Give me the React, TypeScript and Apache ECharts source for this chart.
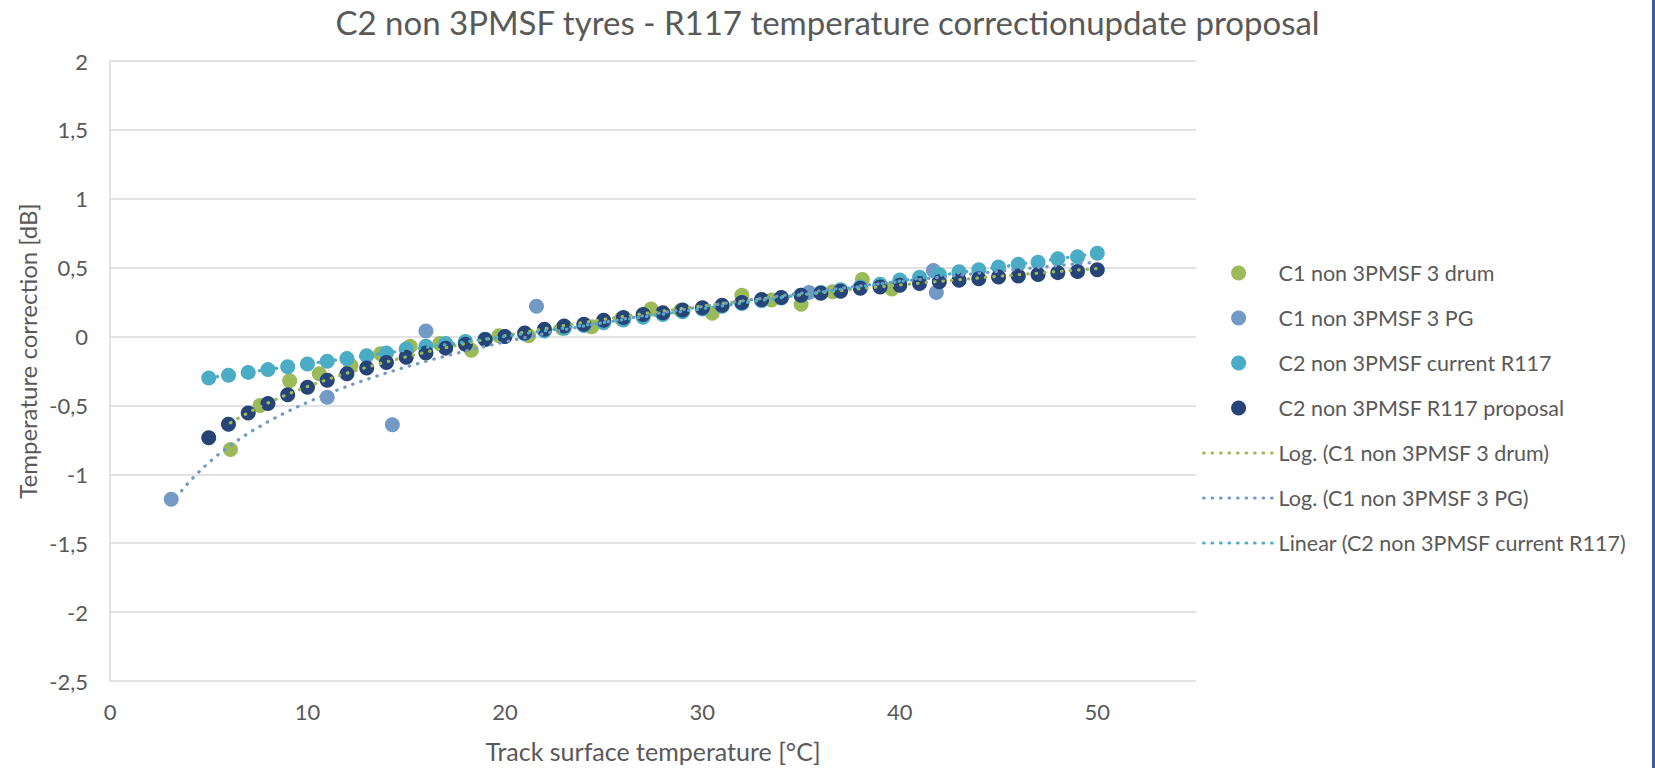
import React, { useEffect, useRef } from "react";
import * as echarts from "echarts";

// ---- data ----
const drumX = [6.1, 7.6, 9.1, 10.6, 12.2, 13.7, 15.2, 16.7, 18.3, 19.7, 21.2, 22.9, 24.4, 25.9, 27.4, 28.9, 30.5, 32.0, 33.5, 35.0, 36.6, 38.1, 39.6];
const drumY = [-0.82, -0.5, -0.32, -0.27, -0.21, -0.125, -0.07, -0.05, -0.1, 0.005, 0.005, 0.06, 0.072, 0.13, 0.2, 0.19, 0.17, 0.3, 0.265, 0.235, 0.325, 0.415, 0.345];

const pgX = [3.1, 11.0, 14.3, 16.0, 21.6, 35.4, 41.7, 41.85];
const pgY = [-1.18, -0.44, -0.64, 0.04, 0.22, 0.32, 0.48, 0.32];

const tempX = [5, 6, 7, 8, 9, 10, 11, 12, 13, 14, 15, 16, 17, 18, 19, 20, 21, 22, 23, 24, 25, 26, 27, 28, 29, 30, 31, 32, 33, 34, 35, 36, 37, 38, 39, 40, 41, 42, 43, 44, 45, 46, 47, 48, 49, 50];
const currentY = [-0.3, -0.28, -0.26, -0.24, -0.22, -0.2, -0.18, -0.16, -0.14, -0.12, -0.09, -0.07, -0.05, -0.035, -0.02, 0.0, 0.02, 0.04, 0.06, 0.08, 0.1, 0.12, 0.14, 0.16, 0.18, 0.2, 0.22, 0.24, 0.26, 0.28, 0.3, 0.32, 0.34, 0.36, 0.38, 0.41, 0.43, 0.45, 0.47, 0.485, 0.505, 0.525, 0.54, 0.565, 0.58, 0.605];
const proposalY = [-0.735, -0.637, -0.555, -0.486, -0.423, -0.368, -0.317, -0.27, -0.228, -0.188, -0.151, -0.12, -0.084, -0.056, -0.022, 0.0, 0.026, 0.053, 0.076, 0.09, 0.118, 0.139, 0.16, 0.173, 0.192, 0.209, 0.228, 0.247, 0.269, 0.283, 0.3, 0.314, 0.329, 0.35, 0.36, 0.372, 0.385, 0.397, 0.408, 0.42, 0.432, 0.44, 0.45, 0.464, 0.473, 0.485];

const seriesNames = [
  "C1 non 3PMSF 3 drum",
  "C1 non 3PMSF 3 PG",
  "C2 non 3PMSF current R117",
  "C2 non 3PMSF R117 proposal",
  "Log. (C1 non 3PMSF 3 drum)",
  "Log. (C1 non 3PMSF 3 PG)",
  "Linear (C2 non 3PMSF current R117)",
];
const trendEnd = 50;

const COLORS = ["#9BBB59", "#7399C6", "#4BACC6", "#264478"];
const TREND_COLORS = [COLORS[0], COLORS[1], COLORS[2]];
const FONT = "Lato, 'Open Sans', sans-serif";
const TXT = "#595959";

// least squares fit y = a * f(x) + b (Excel-style trendline)
function fit(xs: number[], ys: number[], f: (x: number) => number) {
  const n = xs.length;
  const fx = xs.map(f);
  const mx = fx.reduce((s, v) => s + v, 0) / n;
  const my = ys.reduce((s, v) => s + v, 0) / n;
  let sxy = 0, sxx = 0;
  for (let i = 0; i < n; i++) {
    sxy += (fx[i] - mx) * (ys[i] - my);
    sxx += (fx[i] - mx) * (fx[i] - mx);
  }
  const a = sxy / sxx;
  const b = my - a * mx;
  return (x: number) => a * f(x) + b;
}

function trend(xs: number[], ys: number[], f: (x: number) => number) {
  const g = fit(xs, ys, f);
  const x0 = Math.min(...xs);
  const steps = 150;
  const pts: number[][] = [];
  for (let i = 0; i <= steps; i++) {
    const x = x0 + ((trendEnd - x0) * i) / steps;
    pts.push([x, g(x)]);
  }
  return pts;
}

const zip = (xs: number[], ys: number[]) => xs.map((x, i) => [x, ys[i]]);

export default function App() {
  const ref = useRef<HTMLDivElement>(null);
  useEffect(() => {
    if (!ref.current) return;
    const chart = echarts.init(ref.current, undefined, { renderer: "svg" });
    const dotted = (color: string) => ({
      color,
      width: 3.2,
      type: [0.5, 8] as any,
      cap: "round" as const,
    });
    const scatter = (i: number, data: number[][]) => ({
      name: seriesNames[i],
      type: "scatter",
      data,
      symbol: "circle",
      symbolSize: 15,
      itemStyle: { color: COLORS[i], opacity: 1 },
      z: 2 + i * 0.1,
    });
    const line = (i: number, data: number[][], color: string) => ({
      name: seriesNames[i],
      type: "line",
      data,
      symbol: "none",
      showSymbol: false,
      smooth: false,
      lineStyle: dotted(color),
      itemStyle: { color },
      z: 5,
    });
    chart.setOption({
      animation: false,
      backgroundColor: "#ffffff",
      textStyle: { fontFamily: FONT },
      title: {
        text: "C2 non 3PMSF tyres - R117 temperature correctionupdate proposal",
        left: "center",
        top: 0,
        textStyle: { fontFamily: FONT, fontSize: 33, fontWeight: "normal", color: TXT },
      },
      grid: { left: 110, right: 459, top: 61, bottom: 82.5, containLabel: false },
      xAxis: {
        type: "value",
        min: 0,
        max: 55,
        interval: 10,
        axisLine: { show: false },
        axisTick: { show: false },
        splitLine: { show: false },
        axisLabel: {
          color: TXT,
          fontSize: 22,
          fontFamily: FONT,
          margin: 19,
          formatter: (v: number) => (v > 50 ? "" : String(v)),
        },
        name: "Track surface temperature [°C]",
        nameLocation: "middle",
        nameGap: 57,
        nameTextStyle: { color: TXT, fontSize: 25, fontFamily: FONT },
      },
      yAxis: {
        type: "value",
        min: -2.5,
        max: 2,
        interval: 0.5,
        axisLine: { show: true, lineStyle: { color: "#D9D9D9", width: 1.5 } },
        axisTick: { show: false },
        splitLine: { show: true, lineStyle: { color: "#D9D9D9", width: 1.5 } },
        axisLabel: {
          color: TXT,
          fontSize: 22,
          fontFamily: FONT,
          margin: 22,
          formatter: (v: number) => String(v).replace(".", ","),
        },
      },
      legend: {
        orient: "vertical",
        left: 1202,
        top: 261,
        padding: 0,
        itemWidth: 70,
        itemHeight: 15,
        itemGap: 21,
        data: seriesNames.map((name, i) =>
          i < 4
            ? { name }
            : {
                name,
                itemStyle: { opacity: 0 },
                lineStyle: { ...dotted(TREND_COLORS[i - 4]), opacity: 1 },
              }
        ),
        textStyle: { color: TXT, fontSize: 21.5, fontFamily: FONT, lineHeight: 24 },
      },
      graphic: [
        {
          type: "rect",
          shape: { x: 1652, y: 0, width: 3, height: 768 },
          style: { fill: "#3A5C9C" },
        },
        {
          type: "text",
          x: 27,
          y: 351,
          rotation: Math.PI / 2,
          style: {
            text: "Temperature correction [dB]",
            fill: TXT,
            font: `24px ${FONT}`,
            textAlign: "center",
            textVerticalAlign: "middle",
          },
        },
      ],
      series: [
        scatter(0, zip(drumX, drumY)),
        scatter(1, zip(pgX, pgY)),
        scatter(2, zip(tempX, currentY)),
        scatter(3, zip(tempX, proposalY)),
        line(4, trend(drumX, drumY, Math.log), TREND_COLORS[0]),
        line(5, trend(pgX, pgY, Math.log), TREND_COLORS[1]),
        line(6, trend(tempX, currentY, (x) => x), TREND_COLORS[2]),
      ],
    });
    return () => chart.dispose();
  }, []);
  return (
    <div
      ref={ref}
      style={{ position: "fixed", left: 0, top: 0, width: 1655, height: 768, background: "#fff" }}
    />
  );
}
